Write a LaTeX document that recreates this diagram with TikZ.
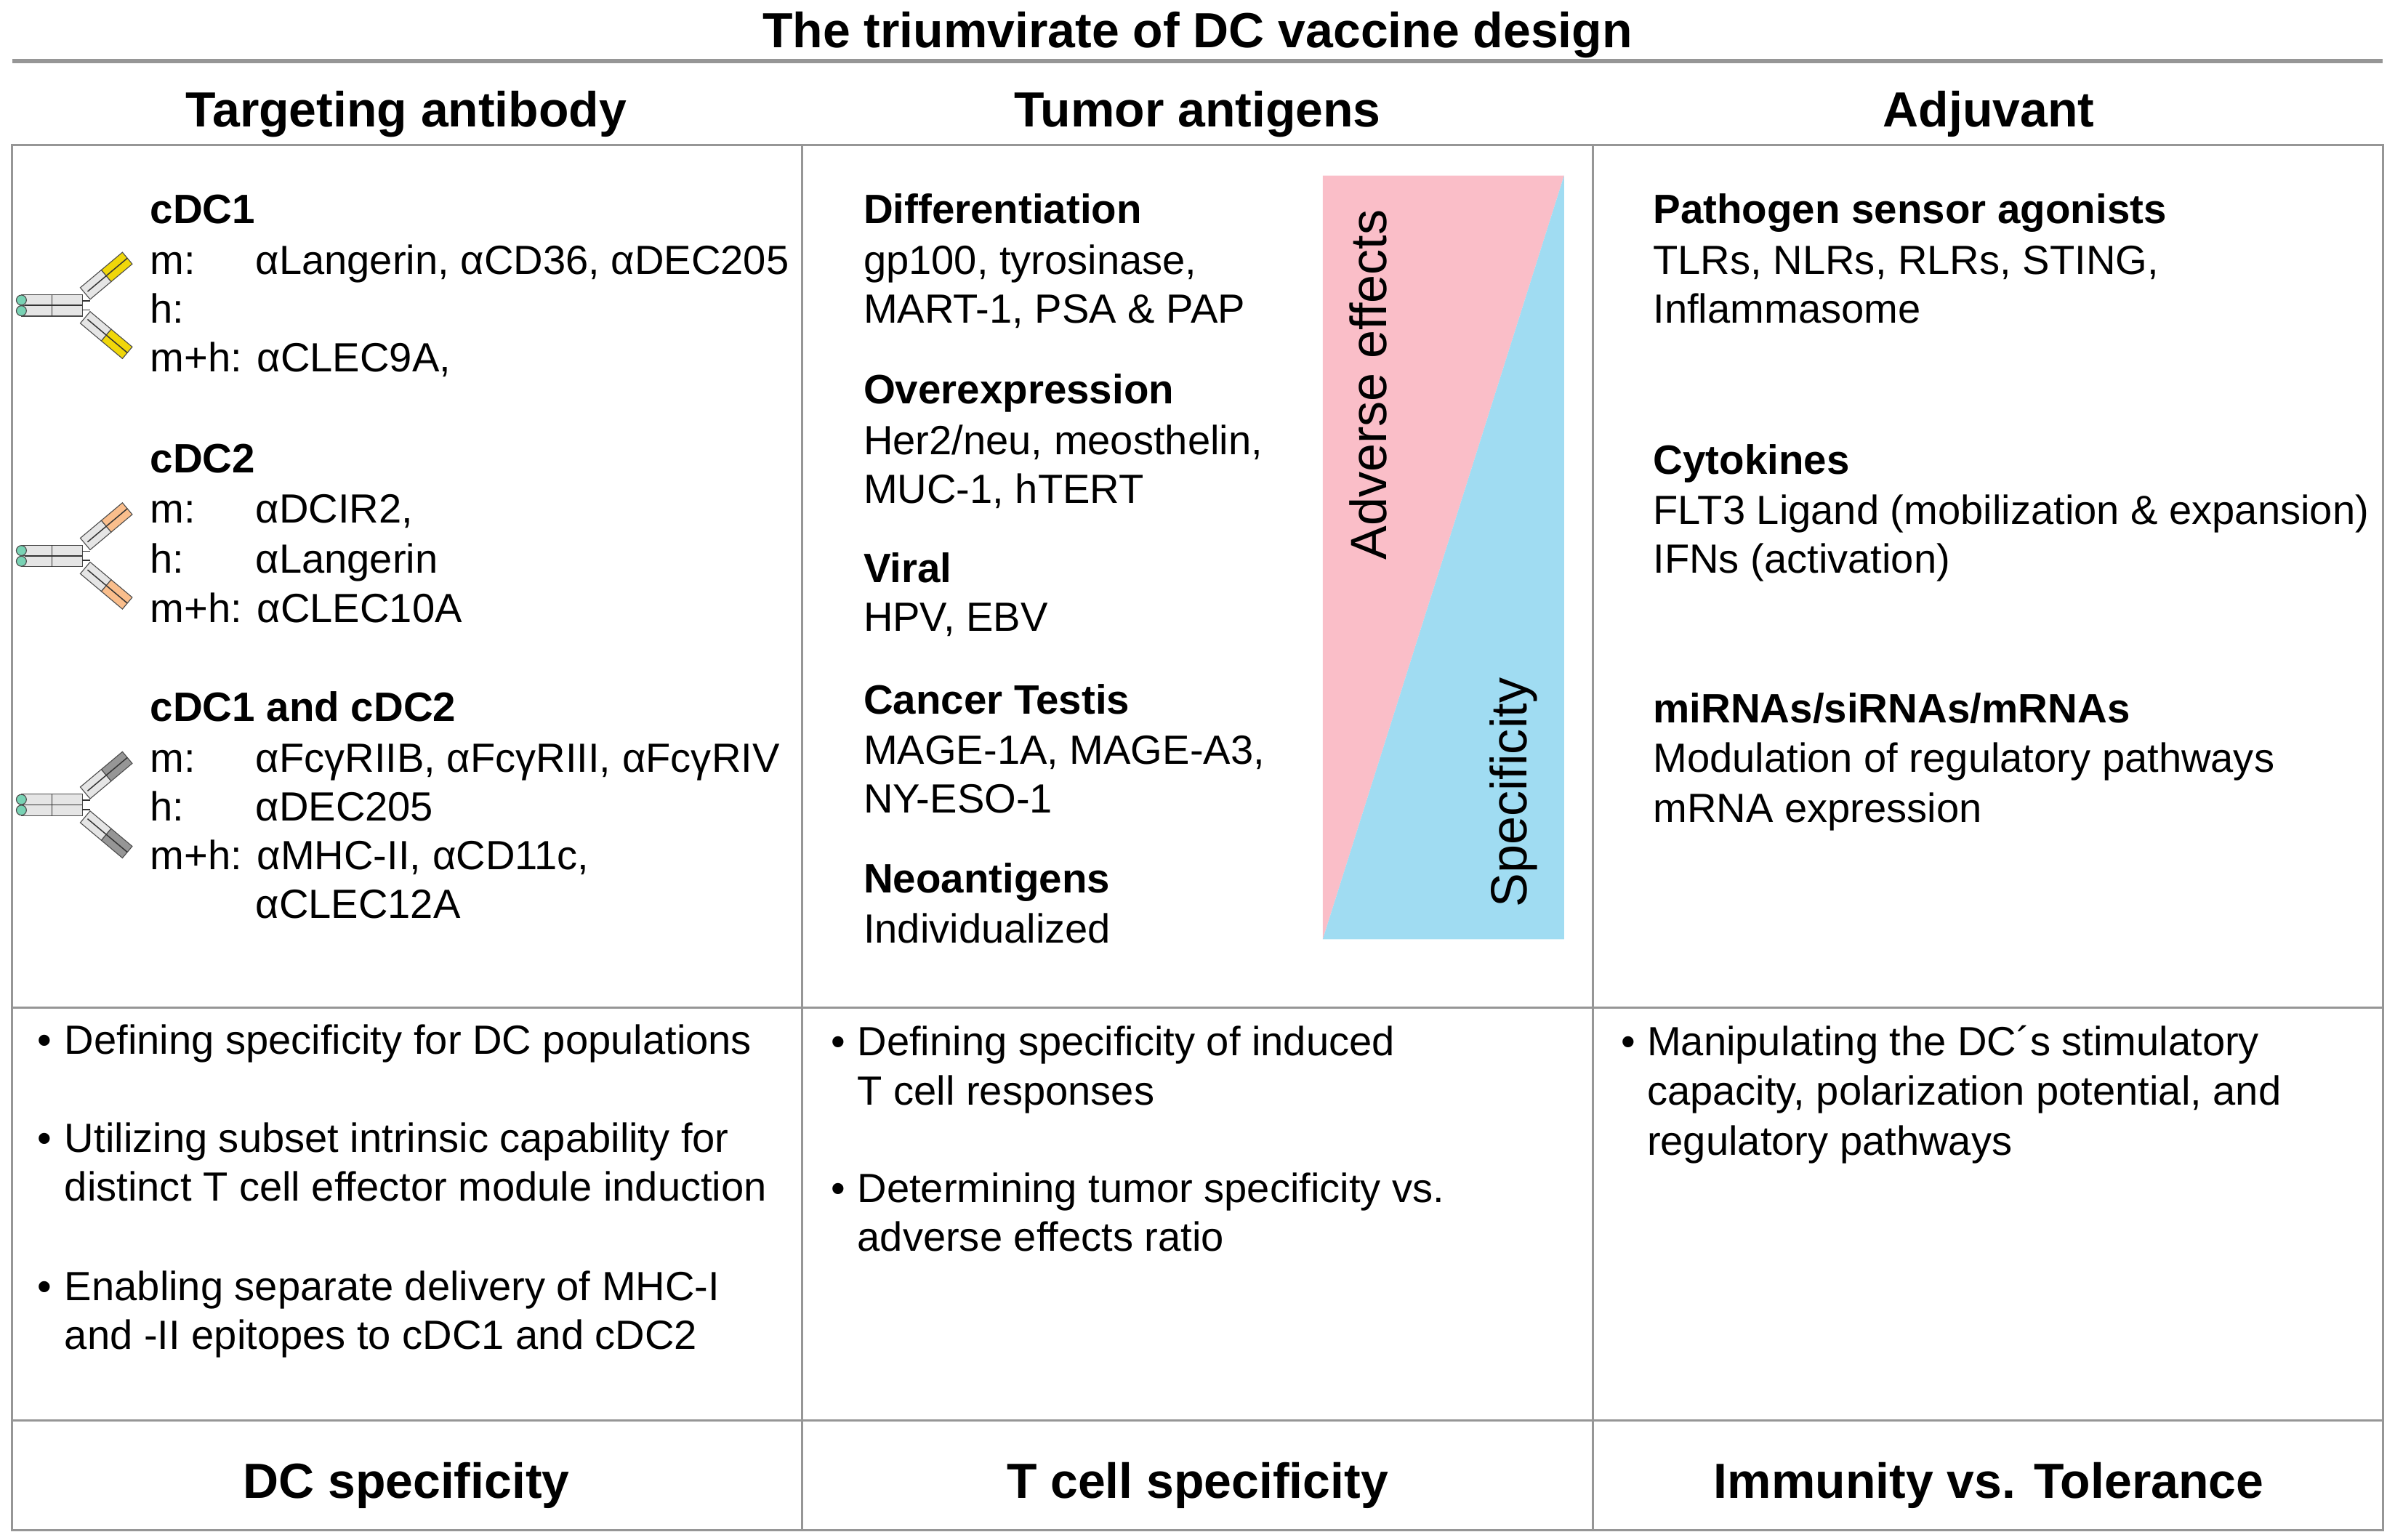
\documentclass[tikz,border=0pt]{standalone}
\usepackage{fontspec}
\setmainfont{Liberation Sans}
\definecolor{pinkc}{RGB}{250,190,200}
\definecolor{bluec}{RGB}{160,220,242}
\definecolor{yel}{RGB}{240,215,10}
\definecolor{ora}{RGB}{250,190,140}
\definecolor{gra}{RGB}{150,150,150}
\definecolor{grn}{RGB}{120,210,180}
\definecolor{linec}{RGB}{150,150,150}
\tikzset{
 t/.style={anchor=west,inner sep=0pt,font=\fontsize{15.2}{17}\selectfont,text height=10pt,text depth=3pt,yshift=-3pt},
 tb/.style={t,font=\fontsize{15.3}{17}\bfseries\selectfont},
 hd/.style={inner sep=0pt,font=\fontsize{18.4}{20}\bfseries\selectfont,text height=13pt,text depth=4pt,yshift=-3pt},
 rt/.style={inner sep=0pt,rotate=90,font=\fontsize{19}{21}\selectfont},
 frame/.style={draw=linec,line width=0.8pt},
 ab/.style={draw=black!70,line width=0.3pt},
}
\newcommand{\antib}[2]{%
 \begin{scope}[shift={(0,#1)}]
  \filldraw[ab,fill=gray!20] (14,-7) rectangle (54,0);
  \filldraw[ab,fill=gray!20] (14,0) rectangle (54,7);
  \draw[black!80,line width=0.5pt] (16,0) -- (54,0) (34,-7) -- (34,7);
  \filldraw[ab,fill=grn] (14,-3.5) circle (3.3) (14,3.5) circle (3.3);
  \draw[black!80,line width=0.4pt] (54,-3) -- (59,-3) (54,3) -- (59,3);
  \begin{scope}[shift={(59,-4)},rotate=40]
   \filldraw[ab,fill=gray!20] (0,-10) rectangle (18,0);
   \filldraw[ab,fill=#2] (18,-10) rectangle (36,0);
   \draw[black!80,line width=0.4pt] (2,-5) -- (36,-5);
  \end{scope}
  \begin{scope}[shift={(59,4)},rotate=-40]
   \filldraw[ab,fill=gray!20] (0,0) rectangle (18,10);
   \filldraw[ab,fill=#2] (18,0) rectangle (36,10);
   \draw[black!80,line width=0.4pt] (2,5) -- (36,5);
  \end{scope}
 \end{scope}}
\begin{document}
\begin{tikzpicture}[x=0.02cm,y=-0.02cm]
\useasboundingbox (0,0) rectangle (1568,1008);
\node[hd] (title) at (784,18) {The triumvirate of DC vaccine design};
\draw[linec,line width=1.4pt] (8,40) -- (1560,40);
\node[hd] (h1) at (266,70) {Targeting antibody};
\node[hd] (h2) at (784,70) {Tumor antigens};
\node[hd] (h3) at (1302,70) {Adjuvant};
% table
\draw[frame] (8,95) rectangle (1560,1002);
\draw[frame] (525,95) -- (525,1002) (1043,95) -- (1043,1002);
\draw[frame] (8,660) -- (1560,660) (8,930) -- (1560,930);
% triangle
\fill[pinkc] (866,115) -- (1024,115) -- (866,615) -- cycle;
\fill[bluec] (1024,115) -- (1024,615) -- (866,615) -- cycle;
\node[rt] (adv) at (896,252) {Adverse effects};
\node[rt] (spec) at (991,519) {Specificity};
% antibodies
\antib{200}{yel}
\antib{364}{ora}
\antib{527}{gra}
% column 1
\node[tb] (c1) at (98,135) {cDC1};
\node[t] (c1m) at (98,168) {m:};
\node[t] (c1mv) at (167,168) {αLangerin, αCD36, αDEC205};
\node[t] (c1h) at (98,200) {h:};
\node[t] (c1mh) at (98,232) {m+h: αCLEC9A,};
\node[tb] (c2) at (98,298) {cDC2};
\node[t] (c2m) at (98,331) {m:};
\node[t] (c2mv) at (167,331) {αDCIR2,};
\node[t] (c2h) at (98,364) {h:};
\node[t] (c2hv) at (167,364) {αLangerin};
\node[t] (c2mh) at (98,396) {m+h: αCLEC10A};
\node[tb] (c3) at (98,461) {cDC1 and cDC2};
\node[t] (c3m) at (98,494) {m:};
\node[t] (c3mv) at (167,494) {αFcγRIIB, αFcγRIII, αFcγRIV};
\node[t] (c3h) at (98,526) {h:};
\node[t] (c3hv) at (167,526) {αDEC205};
\node[t] (c3mh) at (98,558) {m+h: αMHC-II, αCD11c,};
\node[t] (c3mh2) at (167,590) {αCLEC12A};
% column 2
\node[tb] (d1) at (565,135) {Differentiation};
\node[t] (d1a) at (565,168) {gp100, tyrosinase,};
\node[t] (d1b) at (565,200) {MART-1, PSA \& PAP};
\node[tb] (d2) at (565,253) {Overexpression};
\node[t] (d2a) at (565,286) {Her2/neu, meosthelin,};
\node[t] (d2b) at (565,318) {MUC-1, hTERT};
\node[tb] (d3) at (565,370) {Viral};
\node[t] (d3a) at (565,402) {HPV, EBV};
\node[tb] (d4) at (565,456) {Cancer Testis};
\node[t] (d4a) at (565,489) {MAGE-1A, MAGE-A3,};
\node[t] (d4b) at (565,521) {NY-ESO-1};
\node[tb] (d5) at (565,573) {Neoantigens};
\node[t] (d5a) at (565,606) {Individualized};
% column 3
\node[tb] (e1) at (1082,135) {Pathogen sensor agonists};
\node[t] (e1a) at (1082,168) {TLRs, NLRs, RLRs, STING,};
\node[t] (e1b) at (1082,200) {Inflammasome};
\node[tb] (e2) at (1082,299) {Cytokines};
\node[t] (e2a) at (1082,332) {FLT3 Ligand (mobilization \& expansion)};
\node[t] (e2b) at (1082,364) {IFNs (activation)};
\node[tb] (e3) at (1082,462) {miRNAs/siRNAs/mRNAs};
\node[t] (e3a) at (1082,494) {Modulation of regulatory pathways};
\node[t] (e3b) at (1082,527) {mRNA expression};
% bullets
\node[t] (b1) at (24,679) {•};
\node[t] (b1a) at (42,679) {Defining specificity for DC populations};
\node[t] (b2) at (24,743) {•};
\node[t] (b2a) at (42,743) {Utilizing subset intrinsic capability for};
\node[t] (b2b) at (42,775) {distinct T cell effector module induction};
\node[t] (b3) at (24,840) {•};
\node[t] (b3a) at (42,840) {Enabling separate delivery of MHC-I};
\node[t] (b3b) at (42,872) {and -II epitopes to cDC1 and cDC2};
\node[t] (b4) at (544,680) {•};
\node[t] (b4a) at (561,680) {Defining specificity of induced};
\node[t] (b4b) at (561,712) {T cell responses};
\node[t] (b5) at (544,776) {•};
\node[t] (b5a) at (561,776) {Determining tumor specificity vs.};
\node[t] (b5b) at (561,808) {adverse effects ratio};
\node[t] (b6) at (1061,680) {•};
\node[t] (b6a) at (1078,680) {Manipulating the DC´s stimulatory};
\node[t] (b6b) at (1078,712) {capacity, polarization potential, and};
\node[t] (b6c) at (1078,745) {regulatory pathways};
% bottom
\node[hd] (f1) at (266,968) {DC specificity};
\node[hd] (f2) at (784,968) {T cell specificity};
\node[hd] (f3) at (1302,968) {Immunity vs. Tolerance};
\end{tikzpicture}
\end{document}
